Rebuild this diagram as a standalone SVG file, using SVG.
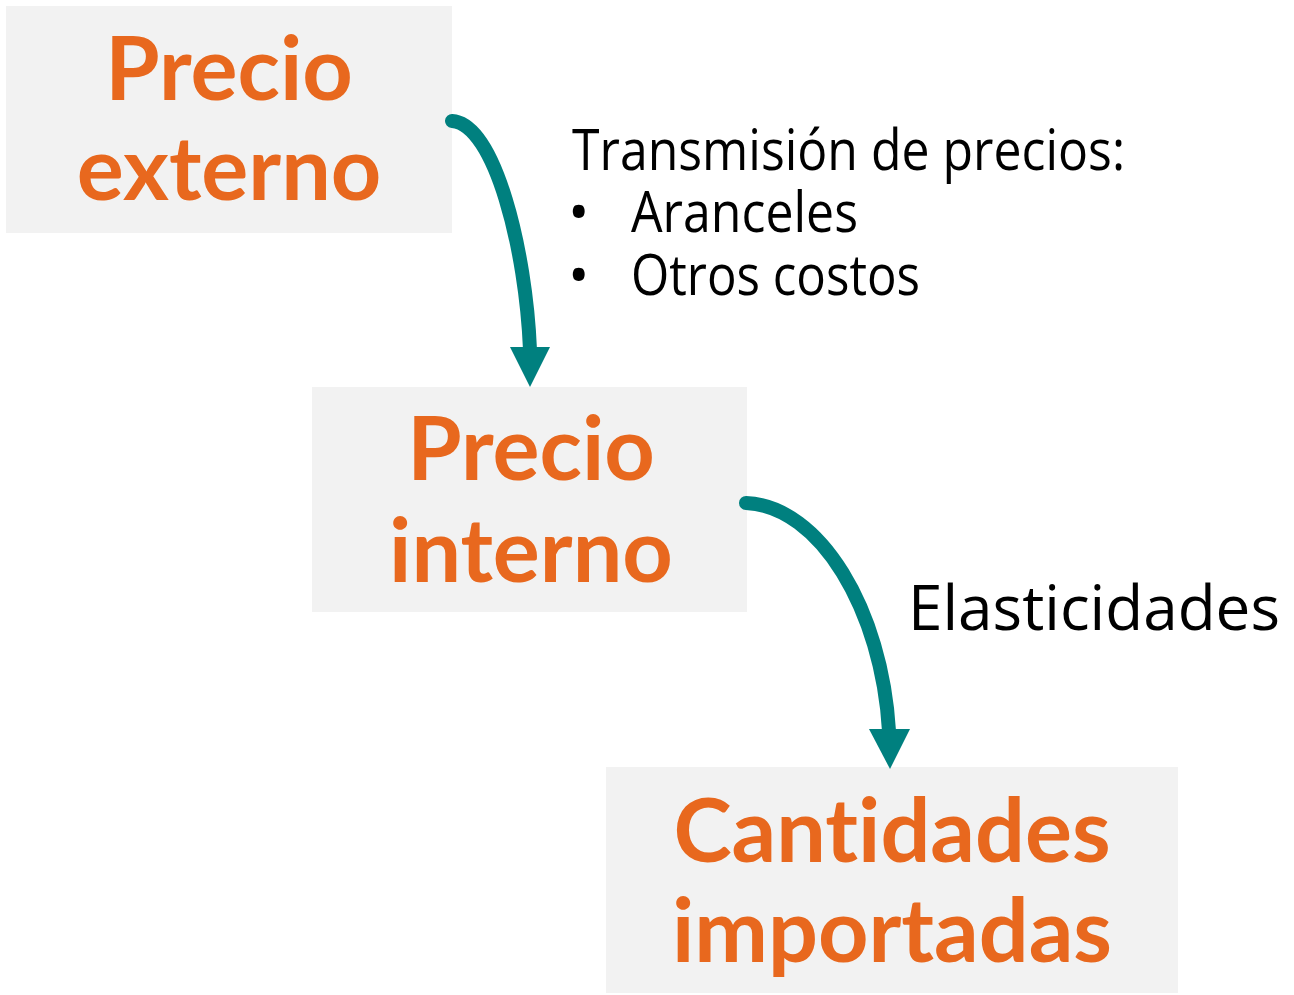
<svg xmlns="http://www.w3.org/2000/svg" width="1294" height="995" viewBox="0 0 1294 995">
<style>
.box{fill:#F2F2F2}
.t{font-family:Lato,"Open Sans",sans-serif;font-weight:bold;font-size:88px;fill:#E8681E;text-anchor:middle;font-variant-ligatures:none;font-feature-settings:"liga" 0}
.lab{font-family:"Open Sans","DejaVu Sans",sans-serif;font-size:57px;fill:#000}
.conn{fill:none;stroke:#00807F;stroke-width:14;stroke-linecap:round}
.head{fill:#00807F}
</style>
<rect width="1294" height="995" fill="#fff"/>
<g id="precio-externo">
<rect class="box" x="6" y="6" width="446" height="227"/>
<text class="t" x="229" y="100">Precio</text>
<text class="t" x="229" y="200">externo</text>
</g>
<g id="precio-interno">
<rect class="box" x="312" y="387" width="435" height="225"/>
<text class="t" x="531" y="480">Precio</text>
<text class="t" x="531" y="582">interno</text>
</g>
<g id="cantidades-importadas">
<rect class="box" x="606" y="767" width="572" height="226"/>
<text class="t" x="892" y="862">Cantidades</text>
<text class="t" x="892" y="962">importadas</text>
</g>
<g id="connectors">
<path class="conn" d="M452,121 C495,124 526,250 530,350"/>
<polygon class="head" points="510,347 550,347 530,387"/>
<path class="conn" d="M746,503 C820,506 882,610 889,731"/>
<polygon class="head" points="869,729 910,729 890,769"/>
</g>
<g id="labels">
<text class="lab" x="572" y="170" textLength="553" lengthAdjust="spacingAndGlyphs">Transmisión de precios:</text>
<text class="lab" x="568" y="232">•</text>
<text class="lab" x="631" y="232" textLength="227" lengthAdjust="spacingAndGlyphs">Aranceles</text>
<text class="lab" x="568" y="295">•</text>
<text class="lab" x="631" y="295" textLength="289" lengthAdjust="spacingAndGlyphs">Otros costos</text>
<text class="lab" x="908" y="630" style="font-size:63px" textLength="372" lengthAdjust="spacingAndGlyphs">Elasticidades</text>
</g>
</svg>
